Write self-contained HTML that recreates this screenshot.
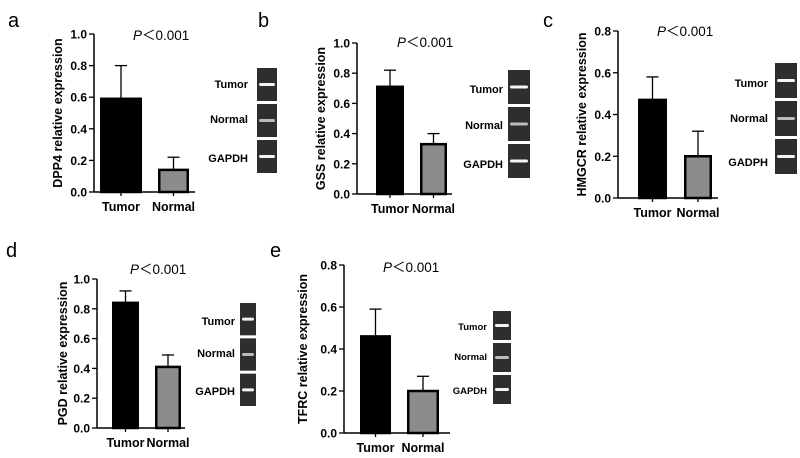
<!DOCTYPE html>
<html><head><meta charset="utf-8"><style>
body{margin:0;background:#fff}
svg{display:block;font-family:"Liberation Sans",Arial,"Noto Sans CJK SC",sans-serif}
</style></head><body>
<svg id="s" width="800" height="458" viewBox="0 0 800 458"></svg>
<script>
const categories = ["Tumor","Normal"];
const meansA = [0.59, 0.14], errA = [0.80, 0.22];
const meansB = [0.71, 0.33], errB = [0.82, 0.40];
const meansC = [0.47, 0.20], errC = [0.58, 0.32];
const meansD = [0.84, 0.41], errD = [0.92, 0.49];
const meansE = [0.46, 0.20], errE = [0.59, 0.27];
const ticks10 = ["0.0","0.2","0.4","0.6","0.8","1.0"];
const ticks08 = ["0.0","0.2","0.4","0.6","0.8"];
const gelLabelsStd = ["Tumor","Normal","GAPDH"];
const gelLabelsC = ["Tumor","Normal","GADPH"];
const ylabels = ["DPP4 relative expression","GSS relative expression","HMGCR relative expression","PGD relative expression","TFRC relative expression"];

const NS="http://www.w3.org/2000/svg";
const svg=document.getElementById('s');
function mk(tag,attrs,parent,text){const e=document.createElementNS(NS,tag);for(const k in attrs)e.setAttribute(k,attrs[k]);if(text!==undefined)e.textContent=text;(parent||svg).appendChild(e);return e;}

const panels=[
 {id:'a',letter:[8,27],ax:94,y0:192,yTop:34,max:1.0,ticks:ticks10,bars:[[100,142],[158,189]],xEnd:195,m:meansA,e:errA,p:[133,40],gel:[257,68,20,105],gl:gelLabelsStd,glx:248,gly:[88,123,162],yl:ylabels[0],ylx:62,gfs:11},
 {id:'b',letter:[258,27],ax:357,y0:194,yTop:43,max:1.0,ticks:ticks10,bars:[[376,404],[420,447]],xEnd:452,m:meansB,e:errB,p:[397,47],gel:[508,70,22,108],gl:gelLabelsStd,glx:503,gly:[93,129,168],yl:ylabels[1],ylx:325,gfs:11},
 {id:'c',letter:[543,27],ax:618,y0:198,yTop:31,max:0.8,ticks:ticks08,bars:[[638,667],[684,712]],xEnd:718,m:meansC,e:errC,p:[657,36],gel:[775,63,22,111],gl:gelLabelsC,glx:768,gly:[87,122,166],yl:ylabels[2],ylx:586,gfs:11},
 {id:'d',letter:[6,257],ax:97,y0:428,yTop:279,max:1.0,ticks:ticks10,bars:[[112,139],[155,181]],xEnd:185,m:meansD,e:errD,p:[130,274],gel:[240,303,16,103],gl:gelLabelsStd,glx:235,gly:[325,357,395],yl:ylabels[3],ylx:67,gfs:11},
 {id:'e',letter:[270,257],ax:344,y0:433,yTop:265,max:0.8,ticks:ticks08,bars:[[360,391],[407,439]],xEnd:450,m:meansE,e:errE,p:[383,272],gel:[493,311,18,93],gl:gelLabelsStd,glx:487,gly:[330,360,394],yl:ylabels[4],ylx:307,gfs:9.5}
];

panels.forEach(P=>{
  const g=mk('g',{});
  
  
  const y=v=>P.y0-(v/P.max)*(P.y0-P.yTop);
  const L=mk('text',{x:P.letter[0],y:P.letter[1],'font-size':'20'},g,P.id);
  
  P.m.forEach((v,i)=>{
    const [x1,x2]=P.bars[i];const cx=(x1+x2)/2;
    const eb=mk('g',{},g);
    
    mk('line',{x1:cx,x2:cx,y1:y(v),y2:y(P.e[i]),stroke:'#000','stroke-width':1.3},eb);
    mk('line',{x1:cx-6,x2:cx+6,y1:y(P.e[i]),y2:y(P.e[i]),stroke:'#000','stroke-width':1.3},eb);
    const r=mk('rect',{x:x1+1.25,y:y(v),width:x2-x1-2.5,height:P.y0-y(v),fill:i==0?'#000':'#8c8c8c',stroke:'#000','stroke-width':2.5},g);
    
    mk('line',{x1:cx,x2:cx,y1:P.y0,y2:P.y0+4,stroke:'#000','stroke-width':1.3},g);
    const t=mk('text',{x:cx,y:P.y0+19,'text-anchor':'middle','font-size':'12.5','font-weight':'bold'},g,categories[i]);
    
  });
  const ya=mk('line',{x1:P.ax,x2:P.ax,y1:P.yTop,y2:P.y0,stroke:'#000','stroke-width':1.5},g);
  
  const xa=mk('line',{x1:P.ax,x2:P.xEnd,y1:P.y0,y2:P.y0,stroke:'#000','stroke-width':1.5},g);
  
  P.ticks.forEach(tl=>{
    const yy=y(parseFloat(tl));
    mk('line',{x1:P.ax-5,x2:P.ax,y1:yy,y2:yy,stroke:'#000','stroke-width':1.3},g);
    const t=mk('text',{x:P.ax-7,y:yy+4.5,'text-anchor':'end','font-size':'12','font-weight':'bold'},g,tl);
    
  });
  const yl=mk('text',{x:0,y:0,transform:`translate(${P.ylx},${(P.yTop+P.y0)/2}) rotate(-90)`,'text-anchor':'middle','font-size':'12.5','font-weight':'bold'},g,P.yl);
  
  const pt=mk('text',{x:P.p[0],y:P.p[1],'font-size':'13.5'},g);
  
  mk('tspan',{'font-style':'italic'},pt,'P');mk('tspan',{},pt,'＜0.001');
  const [gx,gy,gw,gh]=P.gel;const bh=(gh-6)/3;
  for(let k=0;k<3;k++){
    const by=gy+k*(bh+3);
    const gb=mk('g',{},g);
    
    mk('rect',{x:gx,y:by,width:gw,height:bh,fill:'#2e2e2e'},gb);
    mk('rect',{x:gx+2,y:by+bh/2-1.5,width:gw-4,height:3,rx:1.5,fill:k==1?'#bbb':'#f4f4f4'},gb);
    const t=mk('text',{x:P.glx,y:P.gly[k],'text-anchor':'end','font-size':P.gfs,'font-weight':'bold'},g,P.gl[k]);
    
  }
});
</script>
</body></html>
